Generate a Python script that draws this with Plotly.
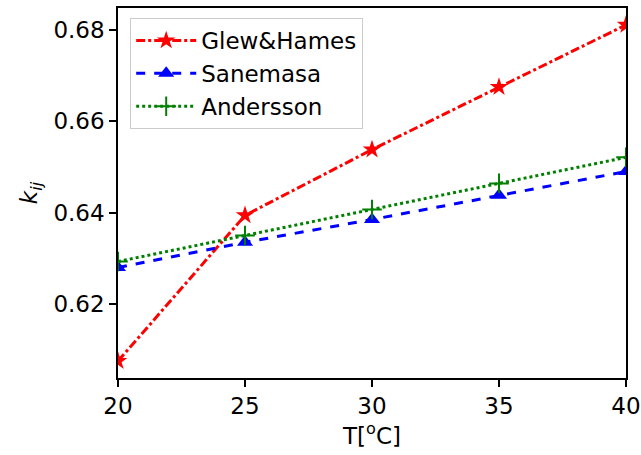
import plotly.graph_objects as go

T = [20, 25, 30, 35, 40]
glew = [0.6075, 0.6394, 0.6538, 0.6675, 0.6811]
sanemasa = [0.6280, 0.6335, 0.6385, 0.6438, 0.6490]
andersson = [0.6293, 0.6350, 0.6407, 0.6464, 0.6521]

FONT = "DejaVu Sans"
FS = 23

fig = go.Figure()
fig.add_trace(go.Scatter(x=T, y=glew, name="Glew&Hames", mode="lines+markers",
                         line=dict(color="red", width=3, dash="dashdot"),
                         marker=dict(symbol="star", size=14, color="red")))
fig.add_trace(go.Scatter(x=T, y=sanemasa, name="Sanemasa", mode="lines+markers",
                         line=dict(color="blue", width=3, dash="dash"),
                         marker=dict(symbol="triangle-up", size=14, color="blue")))
fig.add_trace(go.Scatter(x=T, y=andersson, name="Andersson", mode="lines+markers",
                         line=dict(color="green", width=3, dash="dot"),
                         marker=dict(symbol="cross-thin", size=14, color="green",
                                     line=dict(color="green", width=2))))

axis_common = dict(showline=True, linecolor="black", linewidth=1.5, mirror=True,
                   ticks="outside", ticklen=7, tickwidth=1.5, tickcolor="black",
                   showgrid=False, zeroline=False,
                   tickfont=dict(family=FONT, size=FS, color="black"))

fig.update_xaxes(range=[20, 40], tickvals=[20, 25, 30, 35, 40],
                 title=dict(text="T[<sup>o</sup>C]", font=dict(family=FONT, size=FS, color="black"),
                            standoff=6),
                 **axis_common)
fig.update_yaxes(range=[0.6038, 0.6848], tickvals=[0.62, 0.64, 0.66, 0.68],
                 tickformat=".2f",
                 title=dict(text="<i>k</i><sub><i>ij</i></sub>",
                            font=dict(family=FONT, size=FS, color="black"), standoff=9),
                 **axis_common)

fig.update_layout(
    width=641, height=455,
    margin=dict(l=118, r=15, t=8, b=77, autoexpand=False),
    plot_bgcolor="white", paper_bgcolor="white",
    font=dict(family=FONT, size=FS, color="black"),
    legend=dict(x=0.024, y=0.973, xanchor="left", yanchor="top",
                itemwidth=60,
                bgcolor="rgba(255,255,255,0.8)", bordercolor="#cccccc", borderwidth=1,
                font=dict(family=FONT, size=FS, color="black")),
    showlegend=True,
)

fig.write_html("out.html")
